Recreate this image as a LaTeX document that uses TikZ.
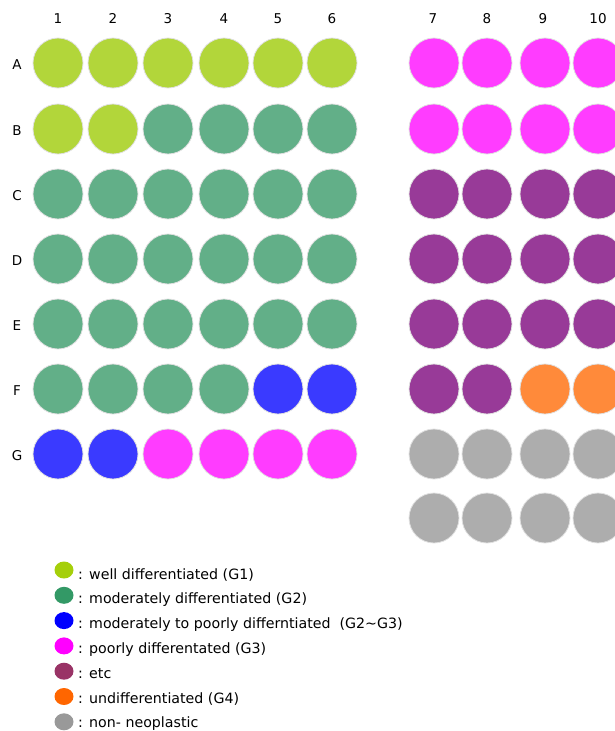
\documentclass[tikz,border=0pt]{standalone}
\usepackage{fontspec}
\setmainfont{DejaVu Sans}
\usetikzlibrary{shapes.geometric}
\begin{document}
\begin{tikzpicture}[x=1pt,y=-1pt,
  dot/.style={circle,minimum size=50pt,inner sep=0pt,draw=black!12,line width=0.8pt,fill=#1},
  ldot/.style={ellipse,minimum width=19pt,minimum height=17pt,inner sep=0pt,fill=#1},
  lab/.style={font=\fontsize{13.5}{14}\selectfont,inner sep=0pt},
  ltxt/.style={font=\fontsize{14.2}{15}\selectfont,inner sep=0pt,anchor=base west}]
\useasboundingbox (0,0) rectangle (615,731);
\definecolor{cLime}{HTML}{B2D63A}
\definecolor{cGreen}{HTML}{62AF88}
\definecolor{cBlue}{HTML}{3A3AFF}
\definecolor{cMag}{HTML}{FF3CFF}
\definecolor{cPur}{HTML}{983A98}
\definecolor{cOra}{HTML}{FF8A3A}
\definecolor{cGray}{HTML}{ADADAD}
\definecolor{lLime}{HTML}{A5CF0A}
\definecolor{lGreen}{HTML}{339966}
\definecolor{lBlue}{HTML}{0000FF}
\definecolor{lMag}{HTML}{FF00FF}
\definecolor{lPur}{HTML}{993366}
\definecolor{lOra}{HTML}{FF6600}
\definecolor{lGray}{HTML}{999999}
% column labels
\foreach \c/\x in {1/58,2/113,3/168,4/224,5/278,6/332,7/433,8/487,9/543,10/598}
  \node[lab,anchor=base] (col\c) at (\x,23) {\c};
% row labels
\foreach \r/\y in {A/63,B/129,C/194,D/259,E/324,F/389,G/454}
  \node[lab,anchor=base] (row\r) at (17,\y+6) {\r};
% circles
\foreach \r/\y/\cols in {
  A/63/{cLime,cLime,cLime,cLime,cLime,cLime,cMag,cMag,cMag,cMag},
  B/129/{cLime,cLime,cGreen,cGreen,cGreen,cGreen,cMag,cMag,cMag,cMag},
  C/194/{cGreen,cGreen,cGreen,cGreen,cGreen,cGreen,cPur,cPur,cPur,cPur},
  D/259/{cGreen,cGreen,cGreen,cGreen,cGreen,cGreen,cPur,cPur,cPur,cPur},
  E/324/{cGreen,cGreen,cGreen,cGreen,cGreen,cGreen,cPur,cPur,cPur,cPur},
  F/389/{cGreen,cGreen,cGreen,cGreen,cBlue,cBlue,cPur,cPur,cOra,cOra},
  G/454/{cBlue,cBlue,cMag,cMag,cMag,cMag,cGray,cGray,cGray,cGray}} {
  \foreach \col [count=\i] in \cols {
    \pgfmathsetmacro{\xx}{{58,113,168,224,278,332,434,487,545,598}[\i-1]}
    \node[dot=\col] (\r\i) at (\xx,\y) {};
  }
}
\foreach \i/\xx in {7/434,8/487,9/545,10/598}
  \node[dot=cGray] (H\i) at (\xx,518) {};
% legend
\foreach \k/\c/\t in {
  0/lLime/{well differentiated (G1)},
  1/lGreen/{moderately differentiated (G2)},
  2/lBlue/{moderately to poorly differntiated\ \ (G2\textasciitilde G3)},
  3/lMag/{poorly differentated (G3)},
  4/lPur/{etc},
  5/lOra/{undifferentiated (G4)},
  6/lGray/{non- neoplastic}} {
  \node[ldot=\c] (ld\k) at (64,570+25.3*\k) {};
  \node[ltxt] (lc\k) at (78,579+24.8*\k) {:};
  \node[ltxt] (lt\k) at (89,579+24.8*\k) {\t};
}
\end{tikzpicture}
\end{document}
